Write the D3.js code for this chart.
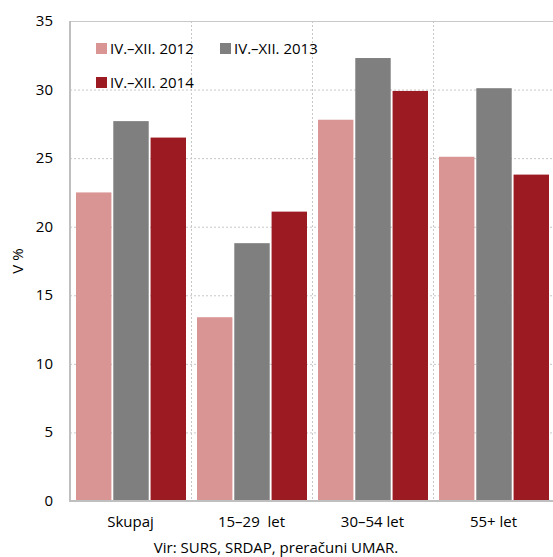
<!DOCTYPE html>
<html>
<head>
<meta charset="utf-8">
<script src="https://cdn.jsdelivr.net/npm/d3@7"></script>
<style>
  body { margin: 0; background: #fff; }
  text { font-family: "Open Sans", "Noto Sans", sans-serif; fill: #000; }
</style>
</head>
<body>
<div id="chart"></div>
<script>
// categories and series
var categories = ['Skupaj', '15–29  let', '30–54 let', '55+ let'];
var seriesNames = ['IV.–XII. 2012', 'IV.–XII. 2013', 'IV.–XII. 2014'];
var values2012 = [22.5, 13.4, 27.8, 25.1];
var values2013 = [27.7, 18.8, 32.3, 30.1];
var values2014 = [26.5, 21.1, 29.9, 23.8];
var yTicks = [0, 5, 10, 15, 20, 25, 30, 35];

var allSeries = [values2012, values2013, values2014];
var colors = ['#d99594', '#7f7f7f', '#9c1a21'];

var width = 553;
var height = 557;
var plotLeft = 70, plotRight = 554, plotTop = 21, plotBottom = 501;

var svg = d3.select('#chart')
  .append('svg')
  .attr('width', width)
  .attr('height', height);

var x = d3.scaleBand()
  .domain(categories)
  .range([plotLeft, plotRight]);

var xSub = d3.scaleBand()
  .domain(d3.range(seriesNames.length))
  .range([6, x.bandwidth() - 5])
  .paddingInner(0.05);

var y = d3.scaleLinear()
  .domain([0, 35])
  .range([plotBottom, plotTop]);

//horizontal dotted grid
svg.append('g')
  .selectAll('line')
  .data(yTicks.filter(function(d) { return d > 0; }))
  .enter()
  .append('line')
  .attr('x1', plotLeft)
  .attr('x2', plotRight)
  .attr('y1', function(d) { return y(d) + 0.5; })
  .attr('y2', function(d) { return y(d) + 0.5; })
  .attr('stroke', '#c8c8c8')
  .attr('stroke-width', 1)
  .attr('stroke-dasharray', function(d) { return d === 35 ? null : '2,2'; });

//vertical dotted dividers between categories
svg.append('g')
  .selectAll('line')
  .data(categories.slice(1))
  .enter()
  .append('line')
  .attr('x1', function(d) { return x(d) + 0.5; })
  .attr('x2', function(d) { return x(d) + 0.5; })
  .attr('y1', plotTop)
  .attr('y2', plotBottom)
  .attr('stroke', '#c8c8c8')
  .attr('stroke-dasharray', '2,2');

//bars
var groups = svg.append('g')
  .selectAll('g')
  .data(categories)
  .enter()
  .append('g')
  .attr('transform', function(d) { return 'translate(' + x(d) + ',0)'; });

groups.selectAll('rect')
  .data(function(d, i) {
    return allSeries.map(function(s, k) { return { k: k, v: s[i] }; });
  })
  .enter()
  .append('rect')
  .attr('x', function(d) { return xSub(d.k); })
  .attr('width', xSub.bandwidth())
  .attr('y', function(d) { return y(d.v); })
  .attr('height', function(d) { return plotBottom - y(d.v); })
  .attr('fill', function(d) { return colors[d.k]; });

//axis lines
svg.append('line')
  .attr('x1', plotLeft).attr('x2', plotLeft)
  .attr('y1', plotTop).attr('y2', plotBottom + 1)
  .attr('stroke', '#bfbfbf').attr('stroke-width', 2);
svg.append('line')
  .attr('x1', plotLeft - 1).attr('x2', plotRight)
  .attr('y1', plotBottom).attr('y2', plotBottom)
  .attr('stroke', '#bfbfbf').attr('stroke-width', 2);

//y tick labels
svg.append('g')
  .selectAll('text')
  .data(yTicks)
  .enter()
  .append('text')
  .attr('x', 53)
  .attr('y', function(d) { return y(d) + 5; })
  .attr('text-anchor', 'end')
  .style('font-size', '15px')
  .text(function(d) { return d; });

//x labels
svg.append('g')
  .selectAll('text')
  .data(categories)
  .enter()
  .append('text')
  .attr('x', function(d) { return x(d) + x.bandwidth() / 2; })
  .attr('y', 527)
  .attr('text-anchor', 'middle')
  .attr('xml:space', 'preserve')
  .style('white-space', 'pre')
  .style('font-size', '15px')
  .text(function(d) { return d; });

//y axis title
svg.append('text')
  .attr('transform', 'translate(23,261) rotate(-90)')
  .attr('text-anchor', 'middle')
  .style('font-size', '15px')
  .text('V %');

//source
svg.append('text')
  .attr('x', 276)
  .attr('y', 553)
  .attr('text-anchor', 'middle')
  .style('font-size', '15px')
  .text('Vir: SURS, SRDAP, preračuni UMAR.');

//legend
var legendPos = [[96, 48], [220, 48], [96, 82]];
var legend = svg.append('g')
  .selectAll('g')
  .data(seriesNames)
  .enter()
  .append('g')
  .attr('transform', function(d, i) { return 'translate(' + legendPos[i][0] + ',' + legendPos[i][1] + ')'; });

legend.append('rect')
  .attr('x', 0).attr('y', -5)
  .attr('width', 11).attr('height', 11)
  .attr('fill', function(d, i) { return colors[i]; });

legend.append('text')
  .attr('x', 14)
  .attr('y', 6)
  .style('font-size', '15px')
  .text(function(d) { return d; });
</script>
</body>
</html>
